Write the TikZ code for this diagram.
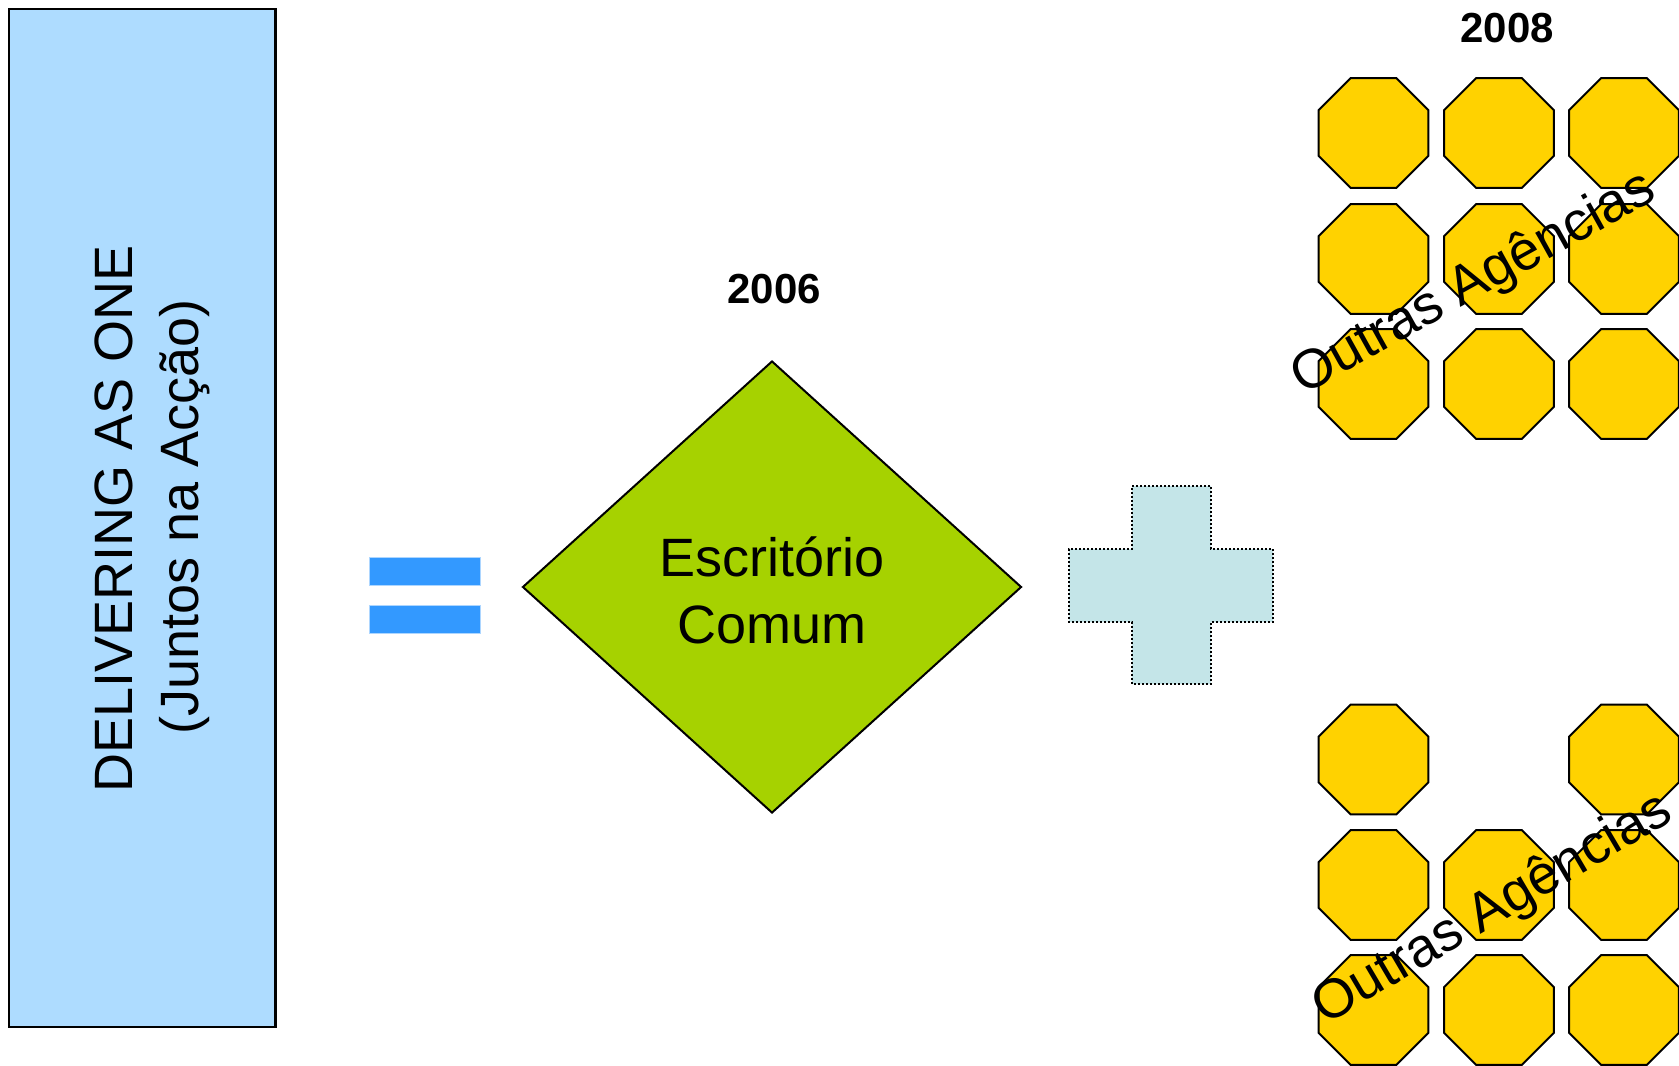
\documentclass[tikz,border=0pt]{standalone}
\usepackage{fontspec}
\setmainfont{Liberation Sans}
\usetikzlibrary{shapes.geometric}
\definecolor{boxblue}{RGB}{174,220,255}
\definecolor{eqblue}{RGB}{51,153,255}
\definecolor{officegreen}{RGB}{166,210,0}
\definecolor{pluscyan}{RGB}{196,229,232}
\definecolor{agencygold}{RGB}{255,210,0}
\tikzset{
  lbl/.style={inner sep=0, font=\fontsize{27pt}{33pt}\selectfont},
  yearlbl/.style={inner sep=0, font=\fontsize{21pt}{25pt}\selectfont\bfseries},
  eqbar/.style={rectangle, fill=eqblue, draw=eqblue!40, line width=0.5pt, inner sep=0, minimum width=55.5pt, minimum height=14pt},
  oct/.style={regular polygon, regular polygon sides=8, minimum size=59.5pt, inner sep=0, draw=black, line width=1pt, fill=agencygold},
  agencylbl/.style={inner sep=0, font=\fontsize{27.5pt}{32pt}\selectfont}
}
\begin{document}
\begin{tikzpicture}[x=0.5pt, y=-0.5pt]
\useasboundingbox (0,0) rectangle (1679,1065);
% left box
\node[rectangle, draw=black, line width=1.25pt, fill=boxblue, minimum width=133.25pt, minimum height=509pt, inner sep=0] (dbox) at (142.25,518) {};
\node[lbl, rotate=90, anchor=base] (dao) at (132,519) {DELIVERING AS ONE};
\node[lbl, rotate=90, anchor=base] (jna) at (198,517) {(Juntos na Acção)};
% equals
\node[eqbar] (eqtop) at (424.5,571) {};
\node[eqbar] (eqbot) at (424.5,619) {};
% diamond
\node[diamond, draw=black, line width=1pt, fill=officegreen, minimum width=249.5pt, minimum height=226pt, inner sep=0] (office) at (772,587) {};
\node[lbl, anchor=base] (esc) at (772,576) {Escritório};
\node[lbl, anchor=base] (com) at (772,643) {Comum};
\node[yearlbl, anchor=base] (y2006) at (774,303) {2006};
% plus
\fill[pluscyan] (1132,486) -- (1211,486) -- (1211,549) -- (1273,549) -- (1273,622) -- (1211,622) -- (1211,684) -- (1132,684) -- (1132,622) -- (1069,622) -- (1069,549) -- (1132,549) -- cycle;
\draw[line width=1pt, dash pattern=on 1pt off 1pt] (1132,486) -- (1211,486) -- (1211,549) -- (1273,549) -- (1273,622) -- (1211,622) -- (1211,684) -- (1132,684) -- (1132,622) -- (1069,622) -- (1069,549) -- (1132,549) -- cycle;
% top octagon group
\node[yearlbl, anchor=base] (y2008) at (1507,43) {2008};
\foreach \r/\yy in {1/133,2/259,3/384}{
  \foreach \c/\xx in {1/1373.5,2/1499,3/1624}{
    \node[oct] (ta\r\c) at (\xx,\yy) {};
  }
}
\node[agencylbl, rotate=29] (tlbl) at (1474,284) {Outras Agências};
% bottom octagon group
\foreach \r/\yy in {1/759.5,2/885,3/1010}{
  \foreach \c/\xx in {1/1373.5,2/1499,3/1624}{
    \ifnum\r\c=12\relax\else
    \node[oct] (ba\r\c) at (\xx,\yy) {};
    \fi
  }
}
\node[agencylbl, rotate=30.5] (blbl) at (1493,910) {Outras Agências};
\end{tikzpicture}
\end{document}
